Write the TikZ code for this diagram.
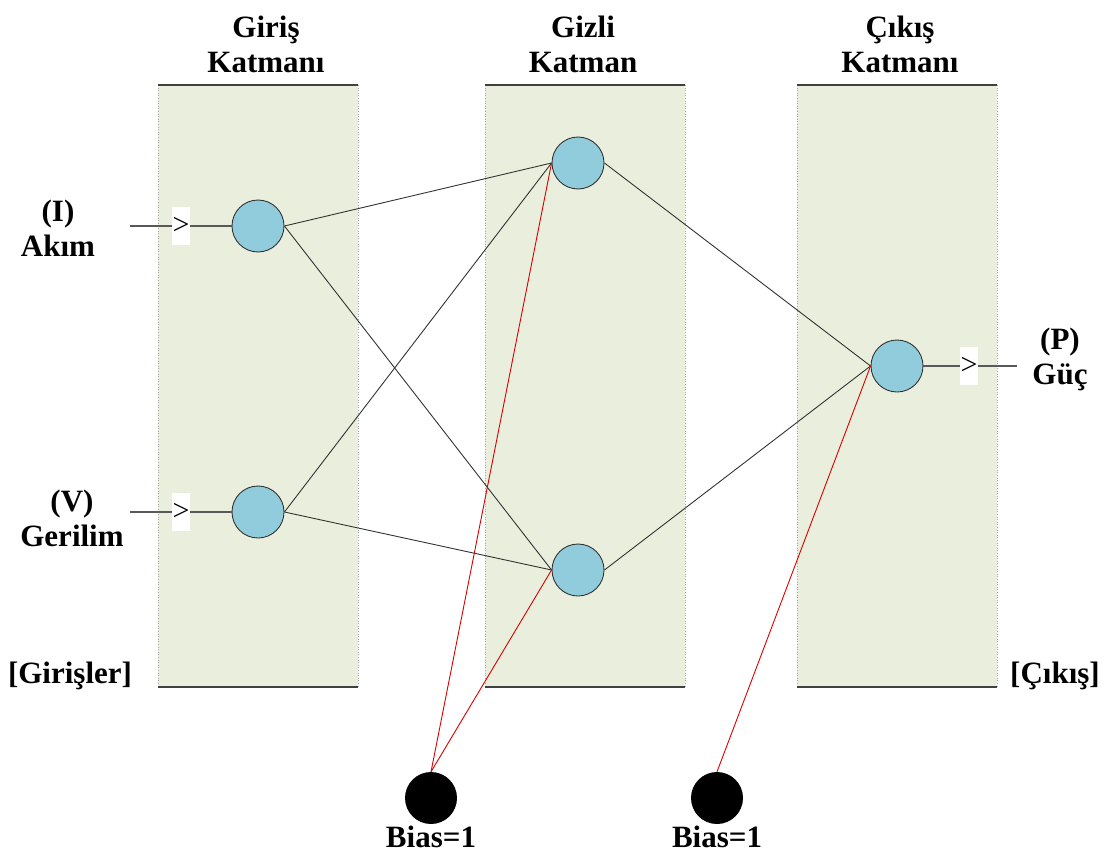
\documentclass[tikz,border=0pt]{standalone}
\usepackage{fontspec}
\setmainfont{Liberation Serif}
\begin{document}
\begin{tikzpicture}[x=1pt,y=-1pt,
  band/.style={fill=bandgreen,draw=none},
  bandedge/.style={draw=gray!70,dotted,line width=0.6pt},
  bandrule/.style={draw=black!75,line width=1.6pt},
  neuron/.style={circle,draw=black!80,fill=neuronblue,minimum size=52pt,inner sep=0pt,line width=0.9pt},
  biasnode/.style={circle,fill=black,minimum size=52pt,inner sep=0pt},
  conn/.style={draw=black!80,line width=0.9pt},
  ioline/.style={draw=black!65,line width=1.6pt},
  biasconn/.style={draw=red!85!black,line width=0.9pt},
  lbl/.style={font=\bfseries\fontsize{31}{35}\selectfont,align=center,inner sep=0pt},
  gate/.style={fill=white,minimum width=18pt,minimum height=38pt,inner sep=0pt,font=\fontsize{30}{30}\selectfont}
]
\definecolor{bandgreen}{RGB}{233,239,220}
\definecolor{neuronblue}{RGB}{144,204,220}
\useasboundingbox (0,0) rectangle (1115,856);
% bands
\foreach \x in {158,485,797}{
  \fill[band] (\x,85) rectangle (\x+200,687);
  \draw[bandedge] (\x,85) -- (\x,687);
  \draw[bandedge] (\x+200,85) -- (\x+200,687);
  \draw[bandrule] (\x,85) -- (\x+200,85);
  \draw[bandrule] (\x,687) -- (\x+200,687);
}
% titles
\node[lbl] (t1) at (266,44) {Giriş\\Katmanı};
\node[lbl] (t2) at (583,44) {Gizli\\Katman};
\node[lbl] (t3) at (900,44) {Çıkış\\Katmanı};
% nodes
\node[neuron] (i1) at (258,226) {};
\node[neuron] (i2) at (258,512) {};
\node[neuron] (h1) at (578,163) {};
\node[neuron] (h2) at (578,570) {};
\node[neuron] (o1) at (897,366) {};
\node[biasnode] (b1) at (431,798) {};
\node[biasnode] (b2) at (717,798) {};
% input / output lines
\coordinate (in1) at (130,226);
\coordinate (in2) at (130,512);
\coordinate (out) at (1017,366);
\draw[ioline] (in1) -- (i1.west);
\draw[ioline] (in2) -- (i2.west);
\draw[ioline] (o1.east) -- (out);
\node[gate] (g1) at (181,226) {>};
\node[gate] (g2) at (181,512) {>};
\node[gate] (g3) at (969,366) {>};
% connections
\draw[conn] (i1.east) -- (h1.west);
\draw[conn] (i1.east) -- (h2.west);
\draw[conn] (i2.east) -- (h1.west);
\draw[conn] (i2.east) -- (h2.west);
\draw[conn] (h1.east) -- (o1.west);
\draw[conn] (h2.east) -- (o1.west);
\draw[biasconn] (b1.north) -- (h1.west);
\draw[biasconn] (b1.north) -- (h2.west);
\draw[biasconn] (b2.north) -- (o1.west);
% labels
\node[lbl] (li) at (58,228) {(I)\\Akım};
\node[lbl] (lv) at (72,518) {(V)\\Gerilim};
\node[lbl] (lp) at (1060,359) {(P)\\Güç};
\node[lbl] (lg) at (70,676) {[Girişler]};
\node[lbl] (lc) at (1055,676) {[Çıkış]};
\node[lbl] (lb1) at (431,837) {Bias=1};
\node[lbl] (lb2) at (717,837) {Bias=1};
\end{tikzpicture}
\end{document}
